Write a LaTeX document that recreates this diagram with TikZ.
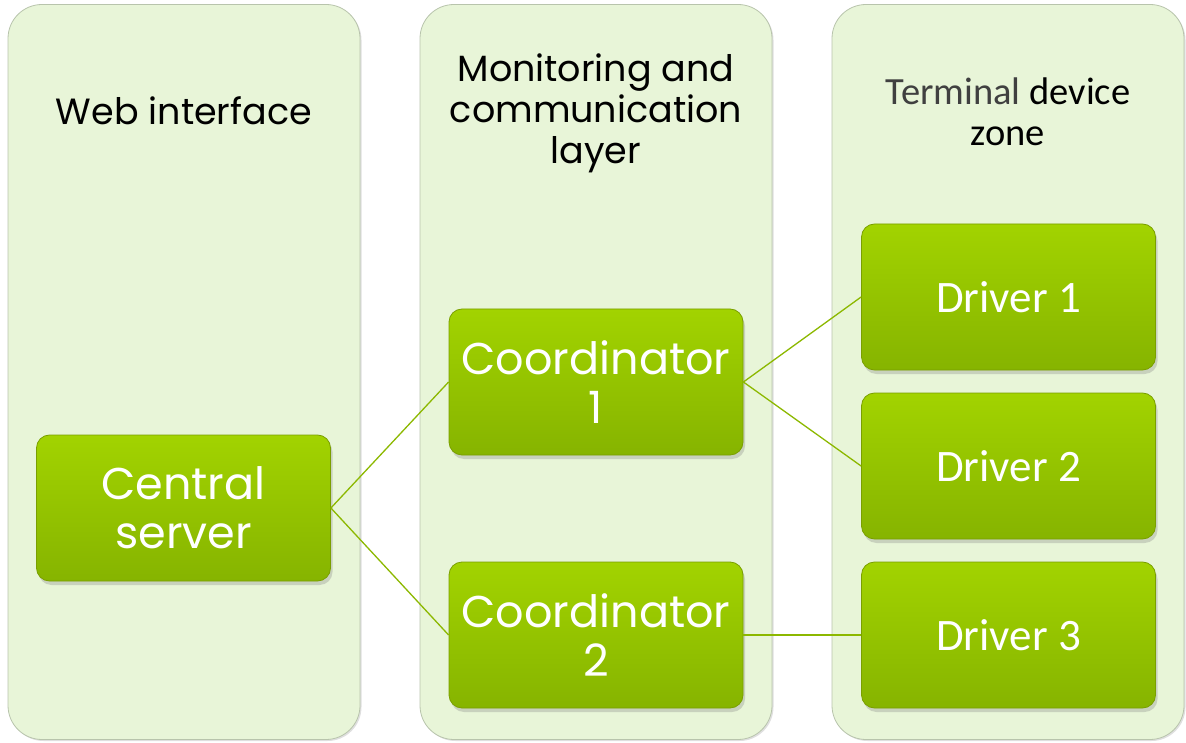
\documentclass[tikz,border=0pt]{standalone}
\usepackage{fontspec}
\setmainfont{Poppins}
\newfontfamily\calib{Carlito}
\usetikzlibrary{shadows}
\definecolor{panelfill}{HTML}{E8F5D8}
\definecolor{paneledge}{HTML}{B8C4AC}
\definecolor{boxtop}{HTML}{A2D300}
\definecolor{boxbot}{HTML}{86B400}
\definecolor{boxedge}{HTML}{7A9F00}
\definecolor{linkc}{HTML}{8CB800}
\definecolor{termgray}{HTML}{404040}
\tikzset{
  panel/.style={draw=paneledge, line width=0.8pt, fill=panelfill, rounded corners=34pt,
    minimum width=352pt, minimum height=735pt, inner sep=0pt,
    drop shadow={opacity=0.25, shadow xshift=1.5pt, shadow yshift=-1.5pt}},
  header/.style={align=center, font=\fontsize{36.5}{41}\selectfont, text=black, inner sep=0pt},
  gbox/.style={draw=boxedge, line width=0.8pt, rounded corners=13pt, top color=boxtop, bottom color=boxbot,
    minimum width=294pt, minimum height=146pt, inner sep=0pt, align=center, text=white,
    drop shadow={opacity=0.3, shadow xshift=2pt, shadow yshift=-4pt}},
  gtext/.style={font=\fontsize{44.5}{49}\selectfont},
  dtext/.style={font=\calib\fontsize{45}{49}\selectfont},
  link/.style={draw=linkc, line width=1.3pt}
}
\begin{document}
\begin{tikzpicture}[x=1pt,y=-1pt]
\useasboundingbox (0,0) rectangle (1186,743);
\node[panel] (p1) at (184,372) {};
\node[panel] (p2) at (596,372) {};
\node[panel] (p3) at (1008,372) {};
\node[header] (h1) at (184,111) {Web interface};
\node[header] (h2) at (596,113) {Monitoring and\\communication\\layer};
\node[header, font=\calib\fontsize{38.5}{41}\selectfont] (h3) at (1008,112) {\textcolor{termgray}{Terminal} device\\zone};
\node[gbox, gtext] (cs) at (183.5,508) {Central\\server};
\node[gbox, gtext] (c1) at (596,382) {Coordinator\\1};
\node[gbox, gtext] (c2) at (596,635) {Coordinator\\2};
\node[gbox, dtext] (d1) at (1008.5,297) {Driver 1};
\node[gbox, dtext] (d2) at (1008.5,466) {Driver 2};
\node[gbox, dtext] (d3) at (1008.5,635) {Driver 3};
\draw[link] (cs.east) -- (c1.west);
\draw[link] (cs.east) -- (c2.west);
\draw[link] (c1.east) -- (d1.west);
\draw[link] (c1.east) -- (d2.west);
\draw[link] (c2.east) -- (d3.west);
\end{tikzpicture}
\end{document}
